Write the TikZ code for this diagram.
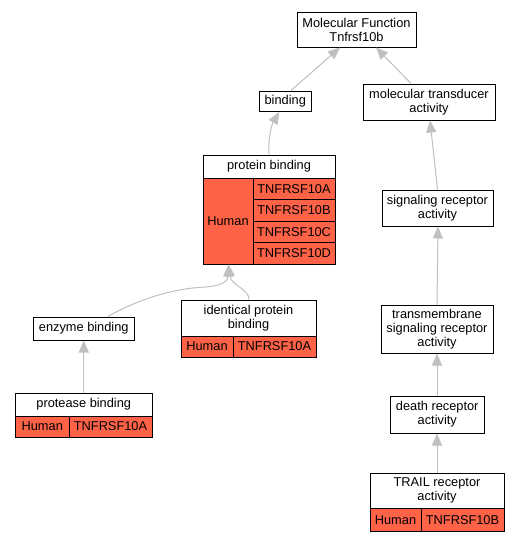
\documentclass[tikz,border=0pt]{standalone}
\usepackage{fontspec}
\setmainfont{Liberation Sans}
\usetikzlibrary{arrows.meta}
\definecolor{tomatoc}{HTML}{FF6347}
\definecolor{edgegray}{HTML}{C0C0C0}
\begin{document}
\begin{tikzpicture}[x=1pt,y=-1pt,
  lab/.style={font=\fontsize{12.8}{14}\selectfont, align=center, inner sep=0pt, line width=1pt},
  box/.style={lab, draw=black, fill=white},
  cell/.style={lab, draw=black, fill=tomatoc},
  edge/.style={draw=edgegray, line width=1pt, -{Triangle[length=12pt,width=10pt]}}]
\useasboundingbox[fill=white] (0,0) rectangle (520,541);

% nodes
\node[box, minimum width=119pt, minimum height=35pt] (mf) at (356.5,29.5) {Molecular Function\\Tnfrsf10b};
\node[box, minimum width=51.5pt, minimum height=20.5pt] (binding) at (285.25,101.25) {binding};
\node[box, minimum width=132pt, minimum height=36pt] (mtrans) at (429,102) {molecular transducer\\activity};

\node[box, minimum width=132pt, minimum height=23pt] (pb) at (269,166.5) {protein binding};
\node[cell, minimum width=50pt, minimum height=86pt] (pbh) at (228,221) {Human};
\node[cell, minimum width=82pt, minimum height=21.5pt] (pba) at (294,188.75) {TNFRSF10A};
\node[cell, minimum width=82pt, minimum height=21.5pt] (pbb) at (294,210.25) {TNFRSF10B};
\node[cell, minimum width=82pt, minimum height=21.5pt] (pbc) at (294,231.75) {TNFRSF10C};
\node[cell, minimum width=82pt, minimum height=21.5pt] (pbd) at (294,253.25) {TNFRSF10D};

\node[box, minimum width=111pt, minimum height=36pt] (sig) at (437.5,208) {signaling receptor\\activity};

\node[box, minimum width=101.5pt, minimum height=23pt] (enz) at (83.75,328.5) {enzyme binding};

\node[box, minimum width=135pt, minimum height=36pt] (ident) at (248.5,318) {identical protein\\binding};
\node[cell, minimum width=52pt, minimum height=21pt] (identh) at (207,346.5) {Human};
\node[cell, minimum width=83pt, minimum height=21pt] (identg) at (274.5,346.5) {TNFRSF10A};

\node[box, minimum width=136.5pt, minimum height=23pt] (prot) at (83.75,404.5) {protease binding};
\node[cell, minimum width=53.5pt, minimum height=21pt] (proth) at (42.25,426.5) {Human};
\node[cell, minimum width=83pt, minimum height=21pt] (protg) at (110.5,426.5) {TNFRSF10A};

\node[box, minimum width=112pt, minimum height=48pt] (tm) at (437,329) {transmembrane\\signaling receptor\\activity};
\node[box, minimum width=93.5pt, minimum height=37pt] (death) at (437.25,414.5) {death receptor\\activity};

\node[box, minimum width=134pt, minimum height=35.5pt] (trail) at (437,490.75) {TRAIL receptor\\activity};
\node[cell, minimum width=51pt, minimum height=22.5pt] (trailh) at (395.5,519.75) {Human};
\node[cell, minimum width=83pt, minimum height=22.5pt] (trailg) at (462.5,519.75) {TNFRSF10B};

% edges
\draw[edge] ([xshift=5.75pt]binding.north) -- ([xshift=-16.5pt]mf.south);
\draw[edge] ([xshift=-18pt]mtrans.north) -- ([xshift=19.5pt]mf.south);
\draw[edge] (pb.north) .. controls (268,140) and (271,126) .. ([xshift=-6pt]binding.south);
\draw[edge] (sig.north) -- ([xshift=1pt]mtrans.south);
\draw[edge] (tm.north) -- ([xshift=0.5pt]sig.south);
\draw[edge] ([xshift=-0.25pt]death.north) -- (tm.south);
\draw[edge] (trail.north) -- ([xshift=-0.25pt]death.south);
\draw[edge] ([xshift=24pt]enz.north) .. controls (150,293) and (185,288) .. (205,287) .. controls (222,286) and (228,281) .. ([xshift=0.5pt]pbh.south);
\draw[edge] ([xshift=0.5pt]ident.north) .. controls (249,289) and (231,285) .. ([xshift=0.5pt]pbh.south);
\draw[edge] (prot.north) -- (enz.south);
\end{tikzpicture}
\end{document}
